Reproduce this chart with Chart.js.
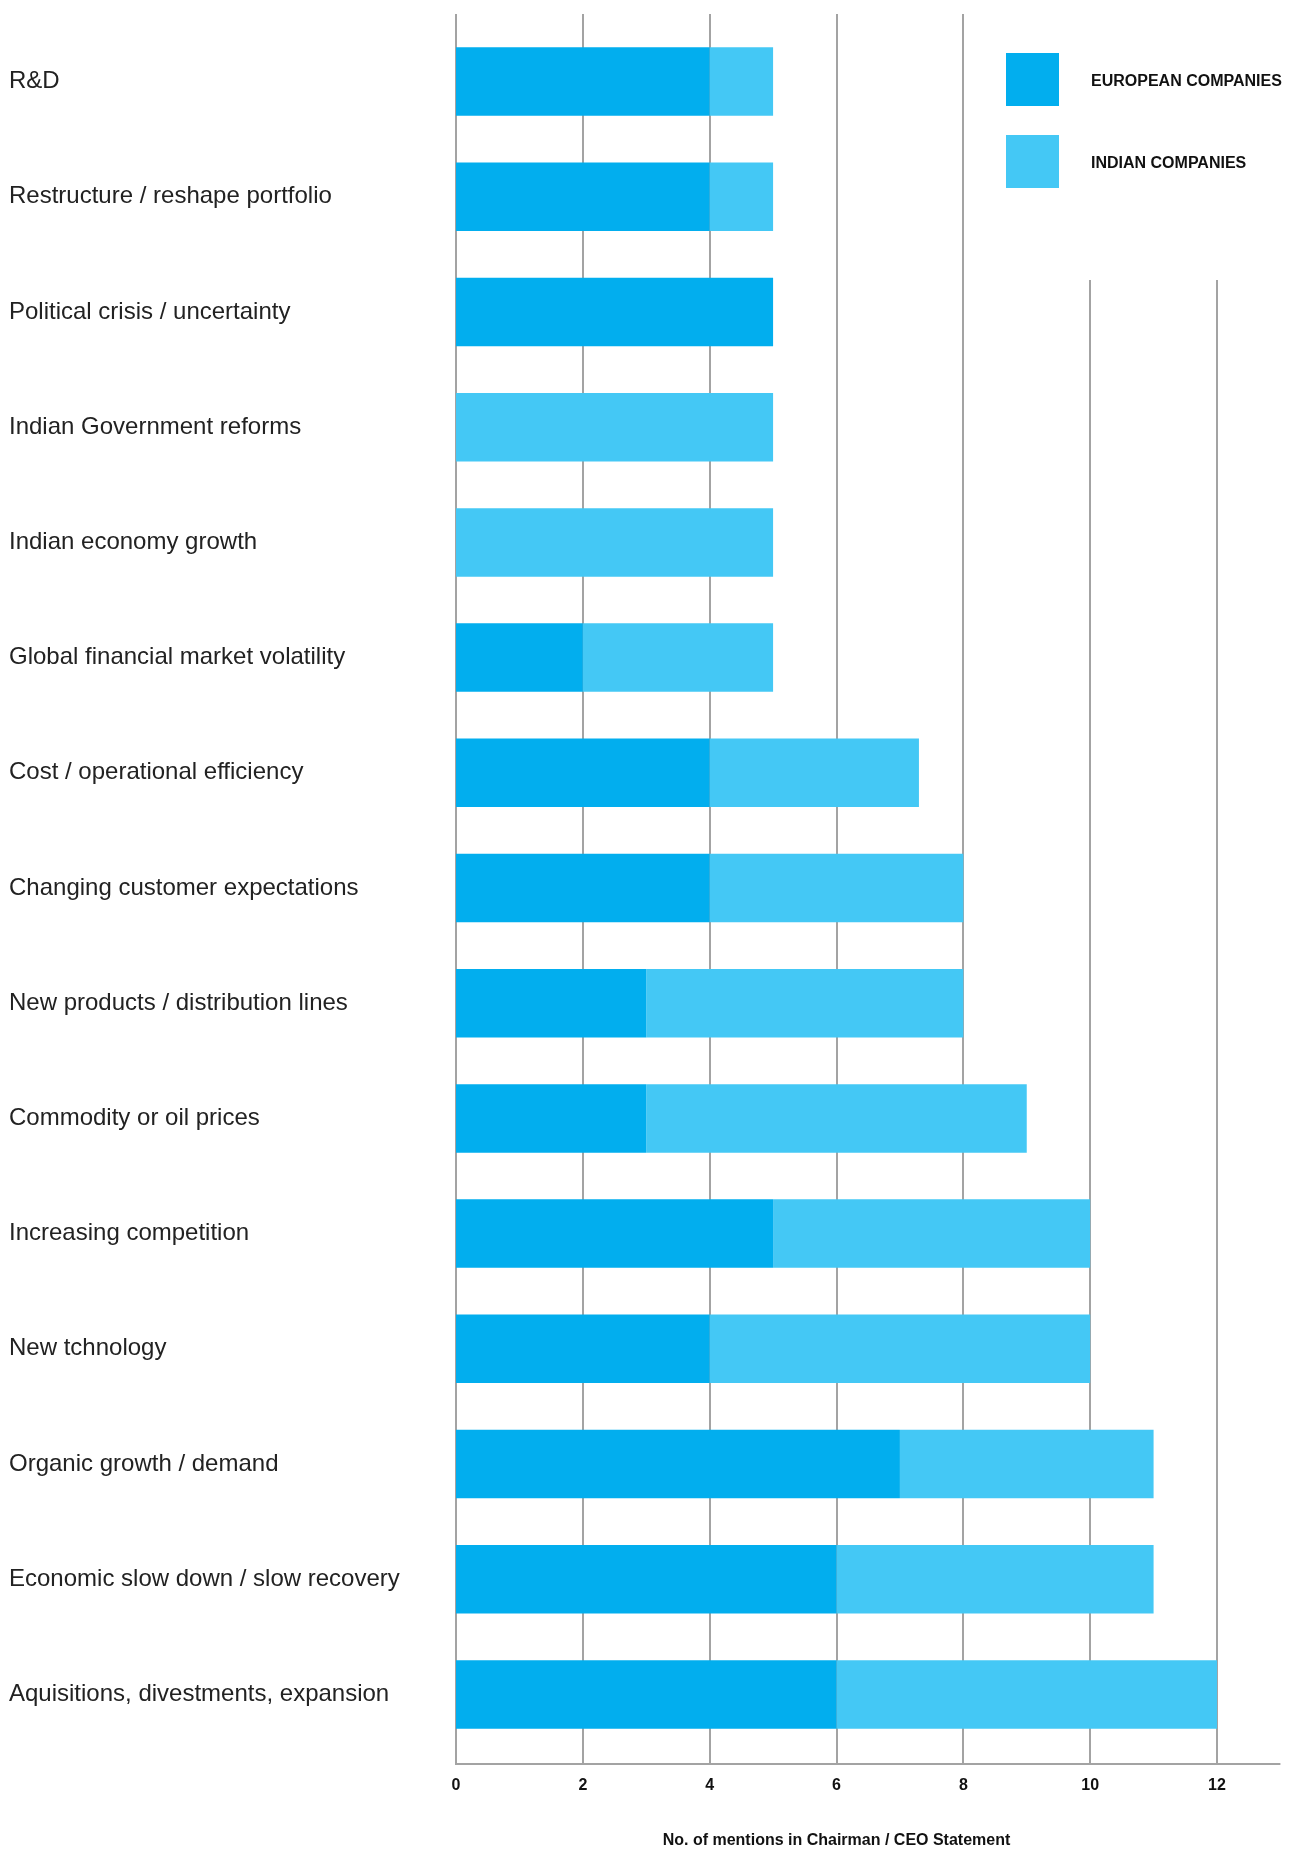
<!DOCTYPE html>
<html>
<head>
<meta charset="utf-8">
<script src="https://cdn.jsdelivr.net/npm/chart.js@4.4.1/dist/chart.umd.min.js"></script>
<style>
html, body { margin: 0; padding: 0; background: #fff; }
</style>
</head>
<body>
<canvas id="bar-chart" width="1294" height="1850"></canvas>
<script>
var categories = [
    "R&D",
    "Restructure / reshape portfolio",
    "Political crisis / uncertainty",
    "Indian Government reforms",
    "Indian economy growth",
    "Global financial market volatility",
    "Cost / operational efficiency",
    "Changing customer expectations",
    "New products / distribution lines",
    "Commodity or oil prices",
    "Increasing competition",
    "New tchnology",
    "Organic growth / demand",
    "Economic slow down / slow recovery",
    "Aquisitions, divestments, expansion"
];
var europeanData = [4, 4, 5, 0, 0, 2, 4, 4, 3, 3, 5, 4, 7, 6, 6];   // dark blue part
var indianData = [1, 1, 0, 5, 5, 3, 3.3, 4, 5, 6, 5, 6, 4, 5, 6];  // light blue part
var xTicks = [0, 2, 4, 6, 8, 10, 12];
var seriesNames = ["EUROPEAN COMPANIES", "INDIAN COMPANIES"];
var axisTitle = "No. of mentions in Chairman / CEO Statement";

var colors = ["#02aeee", "#44c8f5"];
var gridColor = "#a3a3a3";
var fontFamily = "'Liberation Sans', Arial, sans-serif";

// vertical grid lines + bottom axis line, drawn under the bars
var gridPlugin = {
    id: "customGrid",
    beforeDatasetsDraw: function (chart) {
        var ctx = chart.ctx;
        var xs = chart.scales.x;
        var area = chart.chartArea;
        var top = area.top - 10;
        var bottom = area.bottom + 12;
        ctx.save();
        ctx.strokeStyle = gridColor;
        ctx.lineWidth = 2;
        xTicks.forEach(function (v) {
            var x = Math.round(xs.getPixelForValue(v));
            var y0 = v >= 10 ? 280 : top;   // right lines stop below the legend
            ctx.beginPath();
            ctx.moveTo(x, y0);
            ctx.lineTo(x, bottom);
            ctx.stroke();
        });
        ctx.beginPath();
        ctx.moveTo(xs.getPixelForValue(0) - 1, bottom);
        ctx.lineTo(xs.getPixelForValue(13), bottom);
        ctx.stroke();
        ctx.restore();
    }
};

// legend in the top right corner
var legendPlugin = {
    id: "boxLegend",
    afterDraw: function (chart) {
        var ctx = chart.ctx;
        var left = chart.width - 288;
        ctx.save();
        ctx.font = "bold 16px " + fontFamily;
        ctx.textBaseline = "middle";
        ctx.textAlign = "left";
        chart.data.datasets.forEach(function (ds, i) {
            var top = 53 + i * 82;
            ctx.fillStyle = ds.backgroundColor;
            ctx.fillRect(left, top, 53, 53);
            ctx.fillStyle = "#111";
            ctx.fillText(ds.label, left + 85, top + 29);
        });
        ctx.restore();
    }
};

var config = {
    type: "bar",
    data: {
        labels: categories,
        datasets: [{
            label: seriesNames[0],
            data: europeanData,
            backgroundColor: colors[0],
            borderWidth: 0
        }, {
            label: seriesNames[1],
            data: indianData,
            backgroundColor: colors[1],
            borderWidth: 0
        }]
    },
    options: {
        indexAxis: "y",
        responsive: false,
        animation: false,
        devicePixelRatio: 1,
        layout: { padding: { top: 24, left: 9, right: 77, bottom: 0 } },
        datasets: { bar: { categoryPercentage: 1, barPercentage: 0.595 } },
        scales: {
            x: {
                type: "linear",
                stacked: true,
                min: 0,
                max: 12,
                grid: { display: false, drawTicks: false },
                border: { display: false },
                ticks: {
                    stepSize: 2,
                    padding: 24,
                    color: "#111",
                    font: { family: fontFamily, size: 16, weight: "bold" }
                },
                title: {
                    display: true,
                    text: axisTitle,
                    color: "#111",
                    padding: { top: 0, bottom: 0 },
                    font: { family: fontFamily, size: 16, weight: "bold" }
                },
                afterFit: function (scale) { scale.height = 98; }
            },
            y: {
                stacked: true,
                grid: { display: false, drawTicks: false },
                border: { display: false },
                ticks: {
                    autoSkip: false,
                    crossAlign: "far",
                    padding: 0,
                    color: "#222",
                    font: { family: fontFamily, size: 24 }
                },
                afterFit: function (scale) { scale.width = 447; }
            }
        },
        plugins: {
            legend: { display: false },
            tooltip: { enabled: false }
        }
    },
    plugins: [gridPlugin, legendPlugin]
};

var barChart = new Chart(document.getElementById("bar-chart"), config);
</script>
</body>
</html>
